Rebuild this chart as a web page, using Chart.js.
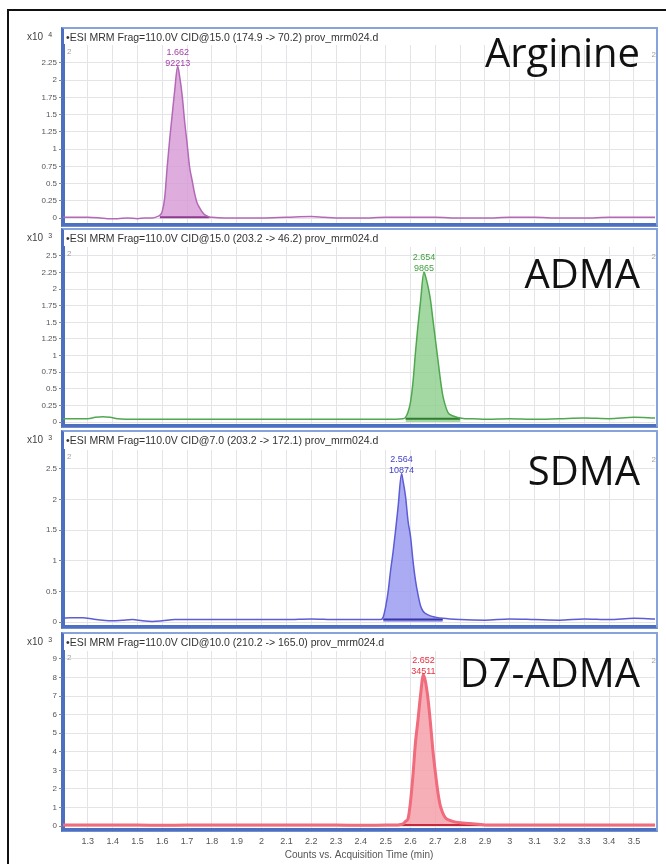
<!DOCTYPE html>
<html lang="en">
<head>
<meta charset="UTF-8">
<title>MRM chromatograms</title>
<script src="https://cdn.jsdelivr.net/npm/chart.js"></script>
<style>
  body { margin: 0; background: #fff; font-family: "Liberation Sans", Arial, sans-serif; }
  #page { position: relative; width: 666px; height: 864px; overflow: hidden; }
  .frame-top { position: absolute; left: 7px; top: 9px; width: 659px; height: 2px; background: #111; }
  .frame-left { position: absolute; left: 7px; top: 9px; width: 2px; height: 855px; background: #111; }
  .box { position: absolute; left: 61px; width: 597px; box-sizing: border-box;
         border: 2px solid #86a3dc; border-left: 3px solid #4c6fc2; border-bottom: 3px solid #6f8fd0; }
  .wrap { position: absolute; left: 0; width: 666px; }
  .title { position: absolute; left: 66px; font-size: 10.5px; line-height: 10px; color: #333; white-space: nowrap; }
  .mult { position: absolute; left: 27px; font-size: 10px; line-height: 10px; color: #444; }
  .mult span { font-size: 7px; position: relative; top: -3px; margin-left: 5px; }
  .name { position: absolute; right: 26px; font-family: "Open Sans", sans-serif; font-size: 40px; line-height: 40px; color: #111; white-space: nowrap; }
</style>
</head>
<body>
<div id="page">
  <div class="frame-top"></div>
  <div class="frame-left"></div>
</div>
<script>
// x axis (acquisition time, min)
const xTicks = [1.3, 1.4, 1.5, 1.6, 1.7, 1.8, 1.9, 2, 2.1, 2.2, 2.3, 2.4, 2.5, 2.6, 2.7, 2.8, 2.9, 3, 3.1, 3.2, 3.3, 3.4, 3.5];

// panel texts
const names = ['Arginine', 'ADMA', 'SDMA', 'D7-ADMA'];
const titles = [
  '\u2022ESI MRM Frag=110.0V CID@15.0 (174.9 -> 70.2) prov_mrm024.d',
  '\u2022ESI MRM Frag=110.0V CID@15.0 (203.2 -> 46.2) prov_mrm024.d',
  '\u2022ESI MRM Frag=110.0V CID@7.0 (203.2 -> 172.1) prov_mrm024.d',
  '\u2022ESI MRM Frag=110.0V CID@10.0 (210.2 -> 165.0) prov_mrm024.d'
];
const exponents = ['4', '3', '3', '3'];

// y ticks per panel
const argTicks = [0, 0.25, 0.5, 0.75, 1, 1.25, 1.5, 1.75, 2, 2.25];
const admaTicks = [0, 0.25, 0.5, 0.75, 1, 1.25, 1.5, 1.75, 2, 2.25, 2.5];
const sdmaTicks = [0, 0.5, 1, 1.5, 2, 2.5];
const d7Ticks = [0, 1, 2, 3, 4, 5, 6, 7, 8, 9];

// peak annotations
const peakRT = [1.662, 2.654, 2.564, 2.652];
const peakArea = ['92213', '9865', '10874', '34511'];
const intStart = [1.59, 2.58, 2.49, 2.56];
const intEnd = [1.79, 2.80, 2.73, 2.88];

// Arginine trace (counts x10^4)
const argTime = [1.20, 1.25, 1.30, 1.35, 1.38, 1.42, 1.46, 1.50, 1.53, 1.56,
  1.58, 1.59, 1.60, 1.61, 1.62, 1.63, 1.64, 1.65, 1.662, 1.67,
  1.68, 1.69, 1.70, 1.71, 1.72, 1.73, 1.74, 1.75, 1.76, 1.77,
  1.78, 1.79, 1.80, 1.85, 1.90, 2.00, 2.10, 2.20, 2.25, 2.30,
  2.40, 2.50, 2.60, 2.70, 2.80, 2.90, 3.00, 3.10, 3.20, 3.30,
  3.40, 3.50, 3.585];
const argInt = [0.01, 0.01, 0.01, 0.0, -0.01, -0.01, 0.0, -0.01, 0.0, 0.0,
  0.02, 0.04, 0.1, 0.3, 0.75, 1.15, 1.5, 1.85, 2.2, 2.05,
  1.78, 1.4, 1.08, 0.74, 0.55, 0.36, 0.22, 0.15, 0.09, 0.05,
  0.03, 0.015, 0.01, 0.0, 0.0, 0.0, 0.01, 0.02, 0.01, 0.0,
  0.0, 0.01, 0.01, 0.01, 0.0, 0.0, 0.01, 0.01, 0.0, 0.0,
  0.01, 0.01, 0.01];

// ADMA trace (counts x10^3)
const admaTime = [1.20, 1.25, 1.30, 1.33, 1.36, 1.39, 1.42, 1.50, 1.60, 1.70,
  1.80, 1.90, 2.00, 2.10, 2.20, 2.30, 2.40, 2.50, 2.57, 2.58,
  2.59, 2.60, 2.61, 2.62, 2.63, 2.64, 2.654, 2.66, 2.67, 2.68,
  2.69, 2.70, 2.71, 2.72, 2.73, 2.74, 2.75, 2.76, 2.78, 2.80,
  2.82, 2.85, 2.90, 3.00, 3.10, 3.20, 3.30, 3.40, 3.50, 3.585];
const admaInt = [0.05, 0.05, 0.05, 0.07, 0.08, 0.07, 0.05, 0.04, 0.04, 0.04,
  0.04, 0.04, 0.04, 0.04, 0.04, 0.04, 0.04, 0.04, 0.05, 0.07,
  0.15, 0.3, 0.6, 1.05, 1.45, 1.8, 2.26, 2.2, 2.05, 1.85,
  1.55, 1.25, 0.95, 0.65, 0.4, 0.25, 0.15, 0.11, 0.08, 0.06,
  0.05, 0.05, 0.04, 0.05, 0.04, 0.05, 0.06, 0.05, 0.07, 0.06];

// SDMA trace (counts x10^3)
const sdmaTime = [1.20, 1.23, 1.28, 1.32, 1.36, 1.40, 1.44, 1.48, 1.52, 1.56,
  1.60, 1.65, 1.70, 1.80, 1.90, 2.00, 2.10, 2.20, 2.30, 2.40,
  2.45, 2.48, 2.49, 2.50, 2.51, 2.52, 2.53, 2.54, 2.55, 2.564,
  2.57, 2.58, 2.59, 2.60, 2.61, 2.62, 2.63, 2.64, 2.65, 2.66,
  2.68, 2.70, 2.73, 2.80, 2.90, 3.00, 3.10, 3.20, 3.30, 3.40,
  3.50, 3.585];
const sdmaInt = [0.06, 0.07, 0.07, 0.05, 0.03, 0.02, 0.03, 0.04, 0.02, 0.01,
  0.02, 0.04, 0.04, 0.04, 0.04, 0.04, 0.04, 0.05, 0.04, 0.04,
  0.04, 0.04, 0.08, 0.25, 0.5, 0.85, 1.15, 1.5, 1.88, 2.42,
  2.3, 2.05, 1.65, 1.4, 1.0, 0.68, 0.45, 0.27, 0.18, 0.14,
  0.1, 0.08, 0.06, 0.04, 0.03, 0.05, 0.04, 0.03, 0.05, 0.04,
  0.06, 0.05];

// D7-ADMA trace (counts x10^3)
const d7Time = [1.20, 1.30, 1.40, 1.50, 1.60, 1.70, 1.80, 1.90, 2.00, 2.10,
  2.20, 2.30, 2.40, 2.50, 2.55, 2.56, 2.57, 2.58, 2.59, 2.60,
  2.61, 2.62, 2.63, 2.64, 2.652, 2.66, 2.67, 2.68, 2.69, 2.70,
  2.71, 2.72, 2.73, 2.74, 2.75, 2.77, 2.80, 2.84, 2.88, 2.90,
  3.00, 3.10, 3.20, 3.30, 3.40, 3.50, 3.585];
const d7Int = [0.05, 0.06, 0.05, 0.05, 0.04, 0.05, 0.05, 0.05, 0.06, 0.05,
  0.05, 0.05, 0.04, 0.05, 0.06, 0.08, 0.12, 0.25, 0.4, 1.3,
  2.75, 4.5, 5.7, 7.0, 8.15, 7.8, 6.9, 5.6, 4.1, 2.9,
  1.85, 1.1, 0.7, 0.45, 0.35, 0.25, 0.18, 0.14, 0.08, 0.06,
  0.05, 0.05, 0.05, 0.05, 0.05, 0.05, 0.05];

// layout of the four boxes (page pixels); nameY = baseline of the big label
const panels = [
  { t: argTime, v: argInt, ticks: argTicks, box: [27, 227], plot: [45, 224], y: [-0.087, 2.51], nameY: 67,
    line: '#b369b6', fill: 'rgba(214,152,214,0.8)', dark: '#8c3c90', text: '#a23ea6', lw: 1.5, base: 0.01 },
  { t: admaTime, v: admaInt, ticks: admaTicks, box: [228, 428], plot: [247, 425], y: [-0.045, 2.635], nameY: 288,
    line: '#4fa84f', fill: 'rgba(140,206,140,0.8)', dark: '#2f7d2f', text: '#3f9f3f', lw: 1.5, base: 0.05 },
  { t: sdmaTime, v: sdmaInt, ticks: sdmaTicks, box: [430, 629], plot: [450, 626], y: [-0.065, 2.81], nameY: 485,
    line: '#5c5cd4', fill: 'rgba(150,150,240,0.8)', dark: '#3535a5', text: '#4242c8', lw: 1.5, base: 0.04 },
  { t: d7Time, v: d7Int, ticks: d7Ticks, box: [632, 832], plot: [651, 829], y: [-0.16, 9.43], nameY: 687,
    line: '#f06b7c', fill: 'rgba(245,155,165,0.8)', dark: '#c8283c', text: '#e8303f', lw: 3, base: 0.06 }
];

function pts(t, v) { return t.map((x, i) => ({ x: x, y: v[i] })); }

const peakLabels = {
  id: 'peakLabels',
  afterDatasetsDraw(chart, args, o) {
    const { ctx, chartArea, scales: { x, y } } = chart;
    const px = x.getPixelForValue(o.rt);
    const py = y.getPixelForValue(o.top);
    ctx.save();
    ctx.font = '9px "Liberation Sans", Arial, sans-serif';
    ctx.textAlign = 'center';
    ctx.textBaseline = 'middle';
    ctx.fillStyle = o.color;
    ctx.fillText(String(o.rt), px, py - 14);
    ctx.fillText(o.area, px, py - 3);
    // little scan markers in the corners
    ctx.fillStyle = '#a0a0a0';
    ctx.font = '8px "Liberation Sans", Arial, sans-serif';
    ctx.textAlign = 'left';
    ctx.fillText('2', chartArea.left + 4, chartArea.top + 7);
    ctx.textAlign = 'right';
    ctx.fillText('2', chartArea.right + 1, chartArea.top + 10);
    ctx.restore();
  }
};

// keep chart area fixed: no extra room for edge tick labels
function noEdgePad(s) { s.paddingTop = 0; s.paddingBottom = 0; s.paddingLeft = 0; s.paddingRight = 0; }

const page = document.getElementById('page');

panels.forEach((p, i) => {
  const last = i === panels.length - 1;
  const box = document.createElement('div');
  box.className = 'box';
  box.style.top = p.box[0] + 'px';
  box.style.height = (p.box[1] - p.box[0]) + 'px';
  page.appendChild(box);

  const wrap = document.createElement('div');
  wrap.className = 'wrap';
  const h = (last ? 864 : p.box[1]) - p.box[0];
  wrap.style.top = p.box[0] + 'px';
  wrap.style.height = h + 'px';
  const cv = document.createElement('canvas');
  wrap.appendChild(cv);
  page.appendChild(wrap);

  const title = document.createElement('div');
  title.className = 'title';
  title.style.top = (p.box[0] + 5) + 'px';
  title.textContent = titles[i];
  page.appendChild(title);

  const mult = document.createElement('div');
  mult.className = 'mult';
  mult.style.top = (p.box[0] + 5) + 'px';
  mult.innerHTML = 'x10<span>' + exponents[i] + '</span>';
  page.appendChild(mult);

  const nm = document.createElement('div');
  nm.className = 'name';
  nm.style.top = (p.nameY - 35) + 'px';
  nm.textContent = names[i];
  page.appendChild(nm);

  const apex = p.v[p.t.indexOf(peakRT[i])];
  const peakPts = pts(p.t, p.v).filter(d => d.x >= intStart[i] && d.x <= intEnd[i]);

  new Chart(cv, {
    type: 'line',
    data: {
      datasets: [
        { data: pts(p.t, p.v), borderColor: p.line, borderWidth: p.lw, pointRadius: 0,
          fill: false, cubicInterpolationMode: 'monotone' },
        { data: [{ x: intStart[i], y: p.base }, { x: intEnd[i], y: p.base }],
          borderColor: p.dark, borderWidth: 2, pointRadius: 0, fill: false },
        { data: peakPts, borderWidth: 0, borderColor: 'rgba(0,0,0,0)', backgroundColor: p.fill,
          fill: 'origin', pointRadius: 0, cubicInterpolationMode: 'monotone' }
      ]
    },
    options: {
      responsive: true,
      maintainAspectRatio: false,
      animation: false,
      layout: { padding: { top: p.plot[0] - p.box[0], right: 11, left: 0,
                           bottom: last ? 0 : p.box[1] - p.plot[1] } },
      plugins: {
        legend: { display: false },
        tooltip: { enabled: false },
        peakLabels: { rt: peakRT[i], area: peakArea[i], top: apex, color: p.text }
      },
      scales: {
        x: {
          type: 'linear', min: 1.2, max: 3.585,
          afterBuildTicks: s => { s.ticks = xTicks.map(v => ({ value: v })); },
          afterFit: s => { s.height = last ? 35 : 0; noEdgePad(s); },
          grid: { color: '#e3e3e8', drawTicks: last, tickLength: 3, tickColor: '#888' },
          border: { color: '#4c6fc2', width: 3 },
          ticks: { display: last, color: '#555', padding: 4, maxRotation: 0, autoSkip: false,
                   font: { size: 9, family: '"Liberation Sans", Arial' },
                   callback: v => String(v) },
          title: { display: last, text: 'Counts vs. Acquisition Time (min)', color: '#555',
                   padding: { top: 0, bottom: 3 }, font: { size: 10, family: '"Liberation Sans", Arial' } }
        },
        y: {
          min: p.y[0], max: p.y[1],
          afterBuildTicks: s => { s.ticks = p.ticks.map(v => ({ value: v })); },
          afterFit: s => { s.width = 63; noEdgePad(s); },
          grid: { color: '#e3e3e8', tickLength: 4, tickColor: '#888' },
          border: { color: '#4c6fc2', width: 3 },
          ticks: { color: '#555', padding: 2, font: { size: 8, family: '"Liberation Sans", Arial' },
                   callback: v => String(v) }
        }
      }
    },
    plugins: [peakLabels]
  });
});
</script>
</body>
</html>
